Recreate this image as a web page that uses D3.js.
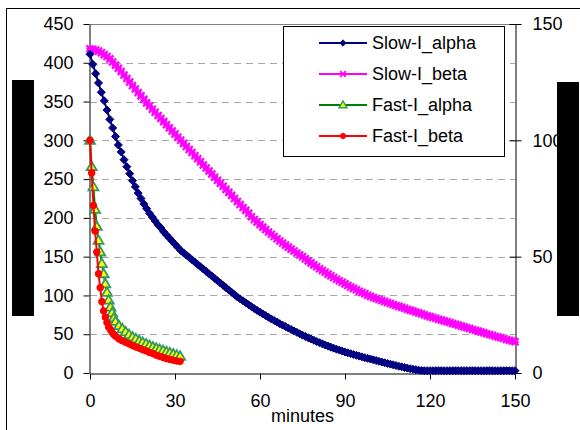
<!DOCTYPE html>
<html>
<head>
<meta charset="utf-8">
<script src="https://cdn.jsdelivr.net/npm/d3@7"></script>
<style>
  html, body { margin: 0; padding: 0; background: #fff; }
  svg { display: block; font-family: "Liberation Sans", Arial, sans-serif; }
</style>
</head>
<body>
<svg id="chart" width="580" height="430"></svg>
<script>
// ---------- DATA ----------
const seriesNames = ["Slow-I_alpha", "Slow-I_beta", "Fast-I_alpha", "Fast-I_beta"];
const xTicks = [0, 30, 60, 90, 120, 150];
const leftTicks = [0, 50, 100, 150, 200, 250, 300, 350, 400, 450];
const rightTicks = [0, 50, 100, 150];
const xLabel = "minutes";

const slowMinutes = [0,1,2,3,4,5,6,7,8,9,10,11,12,13,14,15,16,17,18,19,20,21,22,23,24,25,26,27,28,29,30,
  31,32,33,34,35,36,37,38,39,40,41,42,43,44,45,46,47,48,49,50,51,52,53,54,55,56,57,58,59,60,
  61,62,63,64,65,66,67,68,69,70,71,72,73,74,75,76,77,78,79,80,81,82,83,84,85,86,87,88,89,90,
  91,92,93,94,95,96,97,98,99,100,101,102,103,104,105,106,107,108,109,110,111,112,113,114,115,116,117,118,119,120,
  121,122,123,124,125,126,127,128,129,130,131,132,133,134,135,136,137,138,139,140,141,142,143,144,145,146,147,148,149,150];

const slowAlpha = [411,398,386,374,362,351,339,327,316,305,
  294,285,275,266,257,248,240,232,225,218,
  212,206,201,196,191,187,182,178,174,170,
  166,162,158,155,152,149,146,143,140,137,
  134,131,128,125,122,119,116,113,110,107,
  104,101,98,95.5,93,90.5,88,85.5,83,80.7,
  78.4,76.2,74,71.8,69.7,67.6,65.6,63.6,61.7,59.8,
  57.9,56,54.2,52.4,50.6,48.8,47.1,45.4,43.8,42.2,
  40.6,39.1,37.6,36.1,34.7,33.3,32,30.7,29.5,28.3,
  27.1,26,24.9,23.8,22.8,21.8,20.8,19.8,18.9,18,
  17,16,15,14.1,13.2,12.3,11.4,10.5,9.6,8.7,
  7.9,7.1,6.3,5.6,4.9,4.3,3.7,3.2,3,3,
  3,3,3,3,3,3,3,3,3,3,
  3,3,3,3,3,3,3,3,3,3,
  3,3,3,3,3,3,3,3,3,3,
  3];

const slowBeta = [418,417.5,416.5,415,413,410.5,408,405,401,397,
  393,388.7,384.3,379.8,375.3,370.8,366.3,361.8,357.3,352.8,
  348.3,344.2,340.1,336.1,332.1,328.1,324.1,320.1,316.1,312.1,
  308.1,304.1,300.1,296.1,292.1,288.2,284.2,280.2,276.3,272.3,
  268.3,264.4,260.4,256.5,252.5,248.6,244.6,240.7,236.8,232.9,
  229,225.1,221.2,217.3,213.5,209.7,205.9,201.5,198,194.6,
  191.3,188.1,185,181.9,178.9,176,173.1,170.3,167.6,164.9,
  162.3,159.7,157.2,154.7,152.3,149.9,147.3,144.6,142,139.4,
  136.9,134.5,132.1,129.8,127.5,125.3,123.1,121,118.9,116.9,
  114.9,112.9,111,109.1,107.3,105.5,103.8,102.1,100.3,98.8,
  97.4,96.1,94.8,93.5,92.2,90.9,89.6,88.3,87.1,85.9,
  84.7,83.5,82.3,81.1,79.9,78.7,77.5,76.3,75.1,73.9,
  72.7,71.6,70.5,69.4,68.3,67.2,66.1,65,63.9,62.8,
  61.7,60.6,59.5,58.4,57.3,56.2,55.1,54,52.9,51.8,
  50.7,49.6,48.6,47.5,46.5,45.4,44.4,43.3,42.3,41.2,
  40.2];

const fastMinutes = [0,0.6,1.2,1.8,2.4,3.0,3.6,4.2,4.8,5.4,6.0,6.6,7.2,7.8,8.4,9.0,
  10.2,11.4,12.6,13.8,15.0,16.2,17.4,18.6,19.8,21.0,22.2,23.4,24.6,25.8,27.0,28.2,29.4,30.6,31.8];

const fastAlpha = [300,266,240,211,189,171,156,141,128,115,104,94,85,77.5,71,66.5,
  61,57,53,49.5,46.5,44,41.5,39.5,37.5,35.5,33.5,32,30.5,29,27.5,26,24.5,23,21.5];

const fastBeta = [300,258,216,183,156,128,110,92,80,72,65,59,56,52.5,49.5,47.5,
  44,41.5,39.5,37.5,35.5,33.5,32,30,28.5,26.5,25,23,21.5,20,18.5,17.5,16.5,15.5,15];

// ---------- CHART ----------
const svg = d3.select("#chart");
const W = 580, H = 430;
const plot = { left: 90, right: 515, top: 24, bottom: 373 };
const FONT = 18;

const x = d3.scaleLinear().domain([0, 150]).range([plot.left, plot.right]);
const yL = d3.scaleLinear().domain([0, 450]).range([plot.bottom, plot.top]);
const yR = d3.scaleLinear().domain([0, 150]).range([plot.bottom, plot.top]);

svg.append("rect").attr("width", W).attr("height", H).attr("fill", "#fff");
// outer chart frame
svg.append("rect").attr("x", 6.5).attr("y", 8.5).attr("width", 620).attr("height", 500)
  .attr("fill", "none").attr("stroke", "#000").attr("stroke-width", 1);

// gridlines
const gridG = svg.append("g");
gridG.selectAll("line").data(leftTicks.filter(d => d > 0)).join("line")
  .attr("x1", plot.left).attr("x2", plot.right)
  .attr("y1", d => Math.round(yL(d)) + 0.5).attr("y2", d => Math.round(yL(d)) + 0.5)
  .attr("stroke", d => d === 450 ? "#808080" : "#a6a6a6")
  .attr("stroke-width", 1)
  .attr("stroke-dasharray", d => d === 450 ? null : "7,5");

// series
const mk = {
  diamond: "M0,-4L4,0L0,4L-4,0Z",
  cross: "M-3.5,-3.5L3.5,3.5M-3.5,3.5L3.5,-3.5M-3.5,0L3.5,0",
  triangle: "M0,-5L5,3.5L-5,3.5Z"
};
const series = [
  { name: seriesNames[1], xs: slowMinutes, ys: slowBeta, color: "#FF00FF", marker: "cross" },
  { name: seriesNames[0], xs: slowMinutes, ys: slowAlpha, color: "#000080", marker: "diamond" },
  { name: seriesNames[2], xs: fastMinutes, ys: fastAlpha, color: "#008000", marker: "triangle" },
  { name: seriesNames[3], xs: fastMinutes, ys: fastBeta, color: "#FF0000", marker: "circle" }
];

// axes
const axL = d3.axisLeft(yL).tickValues(leftTicks).tickSize(6).tickPadding(10).tickSizeOuter(0);
const axR = d3.axisRight(yR).tickValues(rightTicks).tickSize(6).tickPadding(11).tickSizeOuter(0);
const axB = d3.axisBottom(x).tickValues(xTicks).tickSize(6).tickPadding(14.7).tickSizeOuter(0);

function styleAxis(g) {
  g.select(".domain").attr("stroke", "#000").attr("stroke-width", 1);
  g.selectAll(".tick line").attr("stroke", "#000");
  g.selectAll("text").attr("font-size", FONT).attr("fill", "#000")
    .attr("font-family", "'Liberation Sans', Arial, sans-serif");
}
const gL = svg.append("g").attr("transform", `translate(${plot.left - 0.5},0)`).call(axL).call(styleAxis);
const gR = svg.append("g").attr("transform", `translate(${plot.right + 0.5},0)`).call(axR).call(styleAxis);
gR.selectAll(".tick line").attr("x1", -6).attr("x2", 6);
const gB = svg.append("g").attr("transform", `translate(0,${plot.bottom + 0.5})`).call(axB).call(styleAxis);

function markerDraw(sel, s) {
  if (s.marker === "circle") {
    sel.append("circle").attr("r", 3.3).attr("fill", s.color).attr("stroke", s.color).attr("stroke-width", 1);
  } else if (s.marker === "triangle") {
    sel.append("path").attr("d", mk.triangle).attr("fill", "#FFFF00").attr("stroke", "#339966").attr("stroke-width", 1.8);
  } else if (s.marker === "cross") {
    sel.append("path").attr("d", mk.cross).attr("fill", "none").attr("stroke", s.color).attr("stroke-width", 2.2);
  } else {
    sel.append("path").attr("d", mk.diamond).attr("fill", s.color).attr("stroke", s.color).attr("stroke-width", 1);
  }
}

series.forEach(s => {
  const pts = s.xs.map((t, i) => [t, s.ys[i]]);
  const line = d3.line().x(d => x(d[0])).y(d => yL(d[1]));
  const g = svg.append("g");
  g.append("path").datum(pts).attr("d", line).attr("fill", "none")
    .attr("stroke", s.color).attr("stroke-width", 2);
  g.selectAll("g.m").data(pts).join("g").attr("class", "m")
    .attr("transform", d => `translate(${x(d[0])},${yL(d[1])})`)
    .each(function () { markerDraw(d3.select(this), s); });
});

// x label
svg.append("text").attr("x", (plot.left + plot.right) / 2).attr("y", 421.5)
  .attr("text-anchor", "middle").attr("font-size", FONT).text(xLabel);

// legend
const lg = svg.append("g");
lg.append("rect").attr("x", 283.5).attr("y", 26.5).attr("width", 221).attr("height", 130)
  .attr("fill", "#fff").attr("stroke", "#000").attr("stroke-width", 1);
const legendOrder = [series[1], series[0], series[2], series[3]];
const legendY = [43, 74, 105, 136];
legendOrder.forEach((s, i) => {
  const row = lg.append("g").attr("transform", `translate(0,${legendY[i]})`);
  row.append("line").attr("x1", 319).attr("x2", 367).attr("y1", 0).attr("y2", 0)
    .attr("stroke", s.color).attr("stroke-width", 2);
  const m = row.append("g").attr("transform", "translate(343,0) scale(0.8)");
  markerDraw(m, s);
  row.append("text").attr("x", 372).attr("y", 0).attr("dy", "0.35em")
    .attr("font-size", FONT).attr("fill", "#000").text(s.name);
});

// redaction boxes (as in the reference)
svg.append("rect").attr("x", 12).attr("y", 80).attr("width", 22).attr("height", 236).attr("fill", "#000");
svg.append("rect").attr("x", 557).attr("y", 82).attr("width", 22).attr("height", 234).attr("fill", "#000");
</script>
</body>
</html>
